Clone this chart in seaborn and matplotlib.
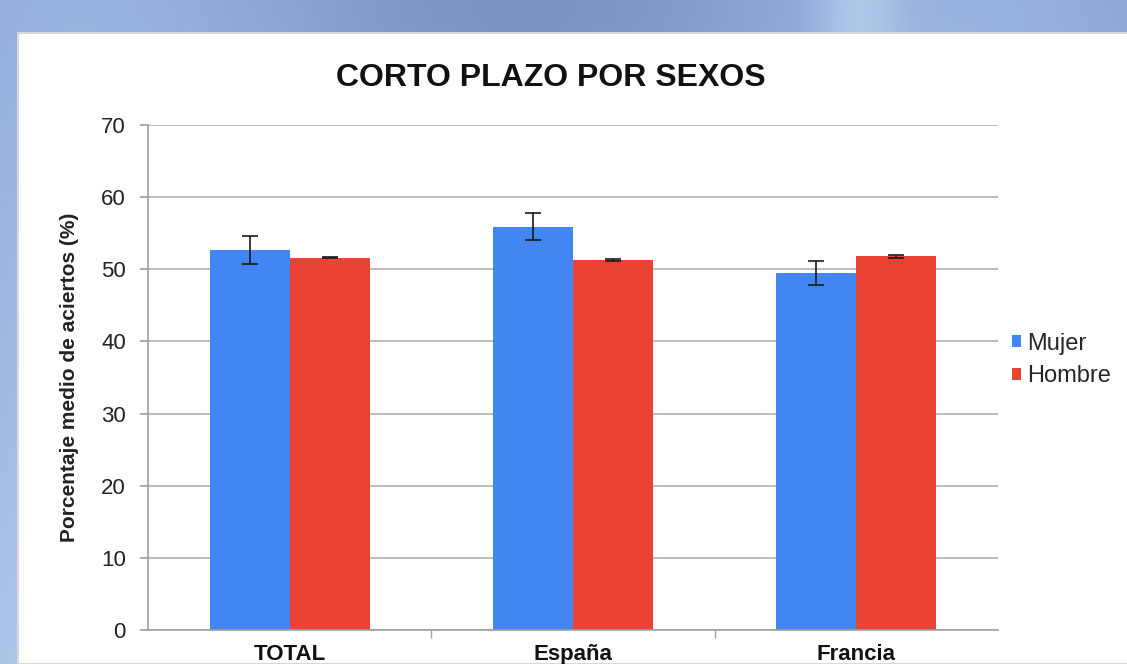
import numpy as np
import pandas as pd
import matplotlib
matplotlib.use("Agg")
import matplotlib.pyplot as plt
import seaborn as sns
from matplotlib.patches import Rectangle

categories = ["TOTAL", "España", "Francia"]
mujer = [52.7, 55.9, 49.5]
hombre = [51.6, 51.3, 51.8]
mujer_err = [1.9, 1.85, 1.7]
hombre_err = [0.1, 0.15, 0.2]
series = ["Mujer", "Hombre"]
colors = ["#4286f4", "#ea4335"]

df = pd.DataFrame({
    "cat": categories * 2,
    "serie": [series[0]] * 3 + [series[1]] * 3,
    "val": mujer + hombre,
})

sns.set_theme(style="white")
plt.rcParams["font.family"] = ["Liberation Sans", "DejaVu Sans"]

fig = plt.figure(figsize=(11.27, 6.64), dpi=100)

# background gradient
bg = fig.add_axes([0, 0, 1, 1], zorder=-10)
xx = np.linspace(0, 1, 400)
yy = np.linspace(0, 1, 100)
X, Y = np.meshgrid(xx, yy)
grad = 0.45 + 0.2 * np.sin(X * 8 + 1) + 0.25 * np.exp(-((X - 0.76) / 0.04) ** 2) - 0.2 * Y
bg.imshow(grad, aspect="auto", origin="lower",
          cmap=matplotlib.colors.LinearSegmentedColormap.from_list(
              "b", ["#7d93c2", "#97b2dc", "#c6dcf4"]), extent=[0, 1, 0, 1])
bg.add_patch(Rectangle((18 / 1127, 0), 1, 1 - 33 / 664, transform=bg.transAxes,
                       facecolor="white", edgecolor="#d8d8d8", lw=1.5))
bg.set_xlim(0, 1); bg.set_ylim(0, 1)
bg.axis("off")

ax = fig.add_axes([148 / 1127, 34 / 664, 850 / 1127, 505 / 664])
sns.barplot(data=df, x="cat", y="val", hue="serie", palette=colors, ax=ax,
            width=0.565, saturation=1, errorbar=None, legend=True, linewidth=0)

for cont, errs in zip(ax.containers, [mujer_err, hombre_err]):
    xs = [p.get_x() + p.get_width() / 2 for p in cont.patches]
    hs = [p.get_height() for p in cont.patches]
    ax.errorbar(xs, hs, yerr=errs, fmt="none", ecolor="#1a1a1a", elinewidth=1.2,
                capsize=6, capthick=1.2, zorder=5)

ax.set_ylim(0, 70)
ax.set_xlim(-0.5, 2.5)
ax.set_yticks(range(0, 71, 10))
ax.yaxis.grid(True, color="#b0b0b0", lw=1.2)
ax.set_axisbelow(True)
for s in ["top", "right"]:
    ax.spines[s].set_visible(False)
for s in ["left", "bottom"]:
    ax.spines[s].set_color("#a0a0a0")
    ax.spines[s].set_linewidth(1.2)
ax.tick_params(axis="y", which="major", length=6, color="#a0a0a0", labelsize=16,
               labelcolor="#222222", pad=10, left=True)
ax.tick_params(axis="x", which="major", length=0, labelsize=16, pad=10,
               labelcolor="#111111")
ax.set_xticks([0.5, 1.5], minor=True)
ax.tick_params(axis="x", which="minor", length=6, color="#a0a0a0", bottom=True)
for lbl in ax.get_xticklabels():
    lbl.set_fontweight("bold")
ax.set_xlabel("")
ax.set_ylabel("Porcentaje medio de aciertos (%)", fontsize=15, fontweight="bold",
              labelpad=16, color="#222222")
fig.text(551 / 1127, 1 - 78 / 664, "CORTO PLAZO POR SEXOS", ha="center", va="center",
         fontsize=23, fontweight="bold", color="#111111")

handles, labels = ax.get_legend_handles_labels()
ax.legend(handles, labels, loc="center left", bbox_to_anchor=(0.997, 0.535), frameon=False,
          fontsize=17, handlelength=0.4, handleheight=0.4, handletextpad=0.25,
          labelspacing=0.45, borderaxespad=0.3)

fig.savefig("out.png", dpi=100)
